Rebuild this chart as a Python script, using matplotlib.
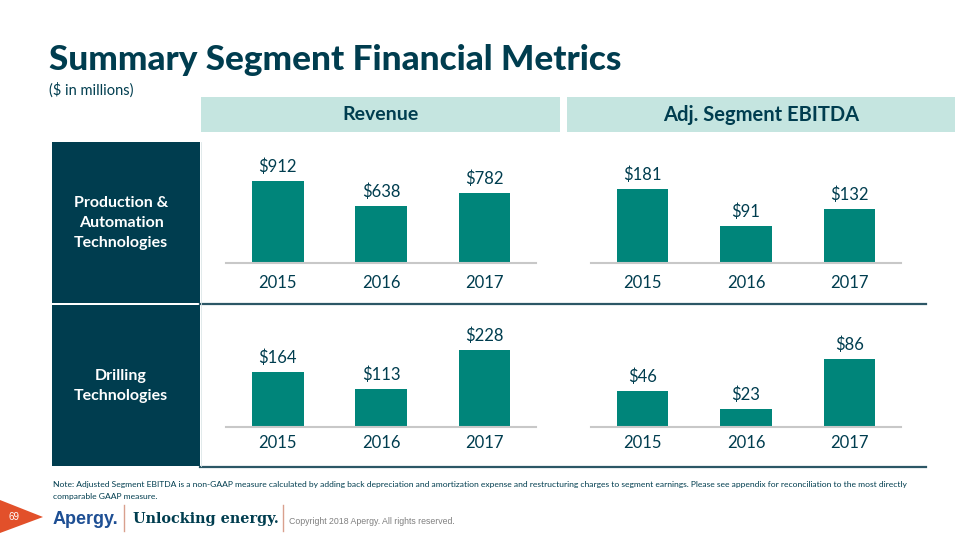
import matplotlib
matplotlib.use("Agg")
import matplotlib.pyplot as plt
from matplotlib.patches import Rectangle, Polygon

# ---- data ----
years = ["2015", "2016", "2017"]
pat_revenue = [912, 638, 782]
pat_ebitda = [181, 91, 132]
dt_revenue = [164, 113, 228]
dt_ebitda = [46, 23, 86]
row_labels = ["Production &\nAutomation\nTechnologies", "Drilling\nTechnologies"]
col_labels = ["Revenue", "Adj. Segment EBITDA"]

W, H = 960, 540
DARK = "#003D4F"
TEAL = "#00857A"
LIGHT = "#C5E5E0"
FONT = "Lato"

fig = plt.figure(figsize=(9.6, 5.4), dpi=100)
fig.patch.set_facecolor("white")


def rect(x0, y0, x1, y1):
    return [x0 / W, 1 - y1 / H, (x1 - x0) / W, (y1 - y0) / H]


bg = fig.add_axes([0, 0, 1, 1])
bg.set_xlim(0, W)
bg.set_ylim(H, 0)
bg.axis("off")

# title
bg.text(49, 70, "Summary Segment Financial Metrics", fontsize=25.3, fontweight="black",
        color=DARK, family=FONT, va="baseline", ha="left")
bg.text(49, 90, "($ in millions)", fontsize=10.5, color=DARK, family=FONT,
        va="center", ha="left")

# column headers
bg.add_patch(Rectangle((201, 97), 359, 35, color=LIGHT, lw=0))
bg.add_patch(Rectangle((567, 97), 388, 35, color=LIGHT, lw=0))
bg.text(380, 115, col_labels[0], fontsize=14, fontweight="bold", color=DARK,
        family=FONT, ha="center", va="center")
bg.text(761, 115, col_labels[1], fontsize=14.5, fontweight="bold", color=DARK,
        family=FONT, ha="center", va="center")

# row panels
bg.add_patch(Rectangle((52, 142), 148, 161, color=DARK, lw=0))
bg.add_patch(Rectangle((52, 305), 148, 161, color=DARK, lw=0))
bg.text(121, 223, row_labels[0], fontsize=11.5, fontweight="bold", color="white",
        family=FONT, ha="center", va="center", linespacing=1.55)
bg.text(121, 386, row_labels[1], fontsize=11.5, fontweight="bold", color="white",
        family=FONT, ha="center", va="center", linespacing=1.55)

# separators
bg.plot([200, 926], [304, 304], color="#2C5766", lw=1.6)
bg.plot([200, 926], [467, 467], color="#2C5766", lw=1.6)
bg.plot([200.5, 200.5], [142, 466], color="#DCE6E8", lw=0.6)

# footnote
bg.text(53, 484, "Note: Adjusted Segment EBITDA is a non-GAAP measure calculated by adding back depreciation and "
        "amortization expense and restructuring charges to segment earnings. Please see appendix for reconciliation to the most directly",
        fontsize=6.1, color=DARK, family=FONT, ha="left", va="center")
bg.text(53, 497, "comparable GAAP measure.", fontsize=6.1, color=DARK, family=FONT,
        ha="left", va="center")

# footer
bg.add_patch(Polygon([(0, 500), (43, 517), (0, 533)], closed=True, color="#E2502A", lw=0))
bg.text(14, 517, "69", fontsize=7, color="white", family="Liberation Sans", ha="center", va="center")
bg.text(53, 519, "Apergy.", fontsize=13, fontweight="bold", color="#1E4F94",
        family="Liberation Sans", ha="left", va="center")
bg.plot([124, 124], [505, 531], color="#D9A08E", lw=1)
bg.text(133, 519, "Unlocking energy.", fontsize=10.4, fontweight="bold", color=DARK,
        family="DejaVu Serif", ha="left", va="center")
bg.plot([283, 283], [505, 531], color="#D9A08E", lw=1)
bg.text(289, 521, "Copyright 2018 Apergy. All rights reserved.", fontsize=6.3,
        color="#808080", family="Liberation Sans", ha="left", va="center")

# ---- bar panels ----
panels = [
    (pat_revenue, 226, 536, 263, 82),
    (pat_ebitda, 591, 901, 263, 74),
    (dt_revenue, 226, 536, 427, 77),
    (dt_ebitda, 591, 901, 427, 68),
]
top_px = {263: 150, 427: 318}
pads = {263: 9, 427: 6}
for vals, x0, x1, base, maxpx in panels:
    y0 = top_px[base]
    ax = fig.add_axes(rect(x0, y0, x1, base))
    ax.set_facecolor("none")
    xs = list(range(len(years)))
    ax.bar(xs, vals, width=0.5, color=TEAL, zorder=2)
    ax.set_xlim(-0.5, 2.5)
    ax.set_ylim(0, max(vals) * (base - y0) / maxpx)
    for x, v in zip(xs, vals):
        ax.annotate(f"${v}", (x, v), xytext=(0, 4), textcoords="offset points",
                    ha="center", va="bottom", fontsize=12, color=DARK, family=FONT)
    for s in ["top", "right", "left"]:
        ax.spines[s].set_visible(False)
    ax.spines["bottom"].set_color("#C8C8C8")
    ax.spines["bottom"].set_linewidth(1.5)
    ax.set_yticks([])
    ax.set_xticks(xs)
    ax.set_xticklabels(years, fontsize=12, color=DARK, family=FONT)
    ax.tick_params(axis="x", length=0, pad=pads[base])

fig.savefig("out.png", dpi=100)
